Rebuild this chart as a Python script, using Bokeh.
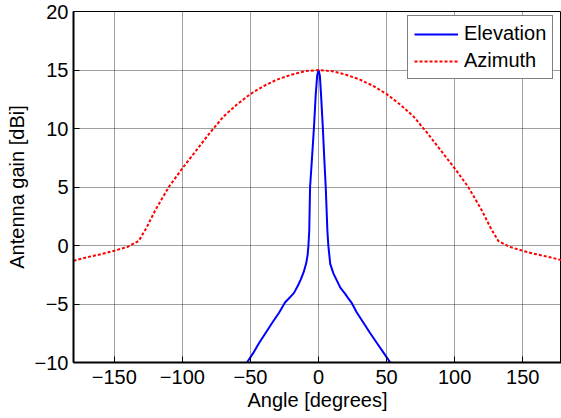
from bokeh.plotting import figure
from bokeh.models import Range1d, Legend, LegendItem, FixedTicker
from bokeh.embed import file_html
from bokeh.resources import INLINE

# ---- data ----
elev_angle = [-52.6, -48, -44, -39, -34, -29, -24.5, -22, -20, -18, -15, -13, -11, -9, -8,
              -7.4, -6.8, -6.2, -5, -4, -3.4, -2, -1, 0, 1, 1.8, 3.2, 4.2, 5.3, 6.5, 7.2,
              8.6, 11, 13.5, 16, 19.6, 21.5, 24.6, 28, 33, 38, 43, 48, 52.7]
elev_gain = [-10, -9.2, -8.4, -7.5, -6.6, -5.75, -4.85, -4.55, -4.3, -4.05, -3.4, -2.9, -2.3, -1.5, -0.8,
             0, 1.3, 5.0, 7.1, 8.9, 10, 13, 14.5, 15, 14.5, 13, 10, 7.5, 5.0, 1.3, 0,
             -1.57, -2.4, -3.0, -3.6, -4.13, -4.45, -4.95, -5.7, -6.6, -7.5, -8.35, -9.2, -10]

azim_angle = [-180, -170, -160, -150, -140, -132, -126, -120, -110, -100, -90, -80, -70, -60,
              -50, -40, -30, -20, -10, 0, 10, 20, 30, 40, 50, 60, 70, 80, 90, 100, 110, 120,
              126, 132, 140, 150, 160, 170, 180]
azim_gain = [-1.3, -1.0, -0.75, -0.45, -0.1, 0.4, 1.6, 3.0, 5.0, 6.6, 8.1, 9.6, 11.0, 12.05,
             12.95, 13.65, 14.2, 14.6, 14.9, 15.0, 14.9, 14.6, 14.2, 13.65, 12.95, 12.05, 11.0, 9.6,
             8.1, 6.6, 5.0, 3.0, 1.6, 0.4, -0.1, -0.45, -0.75, -1.0, -1.3]

x_ticks = [-150, -100, -50, 0, 50, 100, 150]
y_ticks = [-10, -5, 0, 5, 10, 15, 20]

FONT = "Liberation Sans"

p = figure(width=561, height=418, output_backend="svg", toolbar_location=None,
           x_range=Range1d(-180, 178.5), y_range=Range1d(-10, 20),
           min_border_left=73, min_border_right=0, min_border_top=11, min_border_bottom=56)
p.background_fill_color = "white"
p.border_fill_color = "white"
p.outline_line_color = "black"
p.outline_line_width = 1

r_el = p.line(elev_angle, elev_gain, line_color="#0000ff", line_width=2)
r_az = p.line(azim_angle, azim_gain, line_color="#ff0000", line_width=2, line_dash="3 2")

for ax in (p.xaxis[0], p.yaxis[0]):
    ax.major_label_text_font = FONT
    ax.major_label_text_font_size = "20px"
    ax.major_label_text_color = "black"
    ax.axis_label_text_font = FONT
    ax.axis_label_text_font_size = "20px"
    ax.axis_label_text_font_style = "normal"
    ax.axis_label_text_color = "black"
    ax.major_tick_in = 6
    ax.major_tick_out = 0
    ax.minor_tick_line_color = None
    ax.axis_line_width = 2
    ax.axis_line_color = "black"
    ax.major_tick_line_color = "black"

p.xaxis.ticker = FixedTicker(ticks=x_ticks)
p.yaxis.ticker = FixedTicker(ticks=y_ticks)
p.xaxis.axis_label = "Angle [degrees]"
p.yaxis.axis_label = "Antenna gain [dBi]"
p.xaxis.major_label_standoff = 7
p.xaxis.axis_label_standoff = 2
p.yaxis.major_label_standoff = 5
p.yaxis.axis_label_standoff = 4

for g in (p.xgrid[0], p.ygrid[0]):
    g.grid_line_color = "black"
    g.grid_line_alpha = 0.75
    g.grid_line_dash = "1 1"
    g.grid_line_width = 1

legend = Legend(items=[LegendItem(label="Elevation", renderers=[r_el]),
                       LegendItem(label="Azimuth", renderers=[r_az])],
                location=(334, 283))
legend.label_text_font = FONT
legend.label_text_font_size = "20px"
legend.label_text_color = "black"
legend.border_line_color = "black"
legend.border_line_width = 1
legend.background_fill_color = "white"
legend.background_fill_alpha = 1
legend.padding = 6
legend.spacing = 4
legend.glyph_width = 44
legend.glyph_height = 20
legend.label_standoff = 6
legend.margin = 0
p.add_layout(legend, "center")

open("out.html", "w").write(file_html(p, INLINE))
